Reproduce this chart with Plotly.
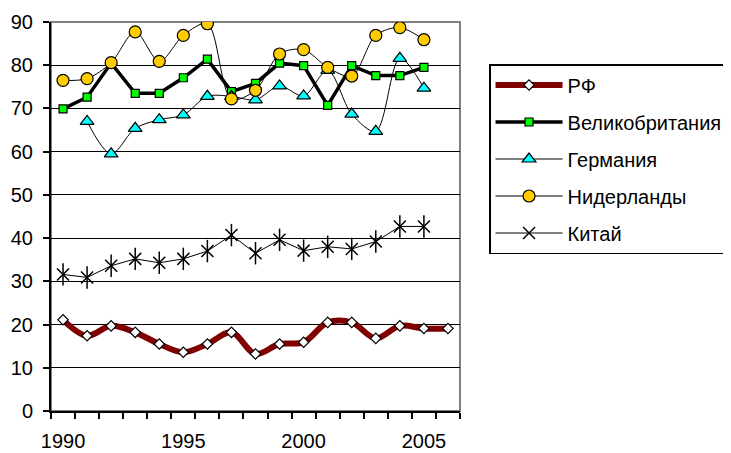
import plotly.graph_objects as go

years = list(range(1990, 2007))
rf = [21.1, 17.4, 19.7, 18.2, 15.5, 13.6, 15.5, 18.2, 13.2, 15.5, 15.9, 20.5, 20.5, 16.8, 19.7, 19.1, 19.1]
uk = [69.9, 72.6, 80.5, 73.5, 73.5, 77.1, 81.4, 73.9, 75.8, 80.5, 79.9, 70.7, 79.9, 77.6, 77.6, 79.5, None]
germany = [None, 67.0, 59.5, 65.4, 67.4, 68.5, 72.8, 72.8, 72.0, 75.2, 72.9, 78.8, 68.7, 64.7, 81.6, 74.7, None]
netherlands = [76.5, 76.9, 80.6, 87.7, 80.9, 86.9, 89.6, 72.2, 74.2, 82.6, 83.6, 79.5, 77.5, 86.9, 88.7, 85.9, None]
china = [31.6, 30.9, 33.6, 35.2, 34.3, 35.2, 37.0, 40.7, 36.5, 39.6, 37.1, 38.0, 37.5, 39.2, 42.7, 42.7, None]

names = ["РФ", "Великобритания", "Германия", "Нидерланды", "Китай"]
xticks = [1990, 1995, 2000, 2005]
yticks = list(range(0, 100, 10))

FONT = "Liberation Sans, Arial, sans-serif"
fig = go.Figure()

fig.add_trace(go.Scatter(
    x=years, y=rf, name=names[0], legendgroup="g0", mode="lines+markers",
    line=dict(color="#800000", width=6, shape="spline", smoothing=1.0),
    marker=dict(symbol="diamond", size=8, color="white", line=dict(color="black", width=1.2))))
fig.add_trace(go.Scatter(
    x=years, y=uk, name=names[1], legendgroup="g1", mode="lines+markers",
    line=dict(color="black", width=3.5),
    marker=dict(symbol="square", size=8, color="#00ff00", line=dict(color="black", width=1.2))))
fig.add_trace(go.Scatter(
    x=years, y=germany, name=names[2], legendgroup="g2", mode="lines+markers",
    line=dict(color="black", width=1, shape="spline", smoothing=0.9),
    marker=dict(symbol="triangle-up", size=12, color="#00ffff", line=dict(color="black", width=1.2))))
fig.add_trace(go.Scatter(
    x=years, y=netherlands, name=names[3], legendgroup="g3", mode="lines+markers",
    line=dict(color="black", width=1, shape="spline", smoothing=0.9),
    marker=dict(symbol="circle", size=12, color="#ffcc00", line=dict(color="black", width=1.2))))
fig.add_trace(go.Scatter(
    x=years, y=china, name=names[4], legendgroup="g4", mode="lines+markers",
    line=dict(color="black", width=1),
    marker=dict(symbol="x-thin-open", size=12, color="black", line=dict(color="black", width=1.5))))
fig.add_trace(go.Scatter(
    x=years, y=china, name=names[4], legendgroup="g4", showlegend=False, mode="markers",
    marker=dict(symbol="line-ns-open", size=16, color="black", line=dict(color="black", width=1.5))))

fig.add_shape(type="rect", xref="paper", yref="paper", x0=0, x1=1, y0=0, y1=1,
              line=dict(color="#808080", width=2), layer="between")

fig.update_layout(
    width=723, height=445,
    margin=dict(l=43, r=271, t=14, b=42, autoexpand=False),
    paper_bgcolor="white", plot_bgcolor="white",
    font=dict(family=FONT, size=20, color="black"),
    legend=dict(x=1.071, y=0.892, xanchor="left", yanchor="top",
                bordercolor="black", borderwidth=1.5, bgcolor="white",
                font=dict(family=FONT, size=20, color="black"),
                tracegroupgap=8, itemwidth=67),
    xaxis=dict(range=[1989.5, 2006.5], tickvals=xticks, ticks="outside", ticklen=8,
               tickcolor="rgba(0,0,0,0)", ticklabelstandoff=3,
               showline=True, linecolor="black", linewidth=2, showgrid=False, zeroline=False,
               minor=dict(ticks="outside", tick0=1989.5, dtick=1, ticklen=6, tickwidth=1.5,
                          tickcolor="black", showgrid=False)),
    yaxis=dict(range=[0, 90], tickvals=yticks, ticks="outside", ticklen=6, tickwidth=1.5,
               tickcolor="black", ticklabelstandoff=6,
               showline=True, linecolor="black", linewidth=2,
               showgrid=True, gridcolor="black", gridwidth=1, zeroline=False),
)

fig.write_html("out.html")
